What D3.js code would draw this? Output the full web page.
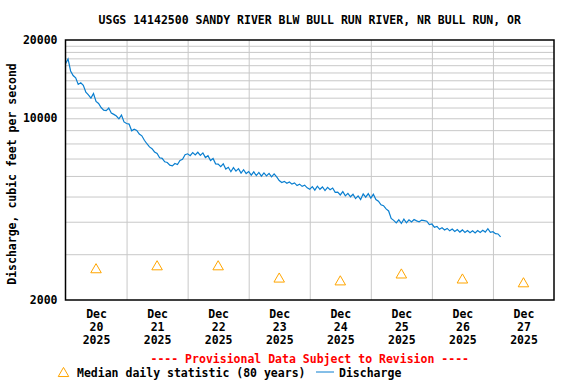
<!DOCTYPE html>
<html>
<head>
<meta charset="utf-8">
<script src="https://cdn.jsdelivr.net/npm/d3@7"></script>
<style>
  body { margin: 0; background: #fff; }
  text { font-family: "DejaVu Sans Mono", monospace; font-weight: bold; font-size: 11.5px; }
</style>
</head>
<body>
<svg id="chart" width="576" height="384"></svg>
<script>
const titleText = 'USGS 14142500 SANDY RIVER BLW BULL RUN RIVER, NR BULL RUN, OR';
const yLabel = 'Discharge, cubic feet per second';
const dayLabels = ['20', '21', '22', '23', '24', '25', '26', '27'];
const yTicks = [2000, 10000, 20000];

// median daily statistic, one per day (at noon)
const medians = [2650, 2720, 2720, 2440, 2380, 2530, 2420, 2340];

// hourly discharge from Dec 20 00:00
const discharge = [
  // Dec 20
  16200, 16900, 15200, 14600, 14300, 13500, 13700, 13400, 12600, 12300, 11950, 12450,
  11600, 11400, 11000, 10750, 10700, 10950, 10480, 10350, 10200, 9950, 10280, 9680,
  // Dec 21
  9550, 9500, 8950, 9080, 8980, 8700, 8560, 8230, 7980, 7760, 7640, 7420,
  7320, 7050, 7010, 6800, 6760, 6600, 6560, 6700, 6640, 6880, 6950, 7240,
  // Dec 22
  7300, 7180, 7380, 7230, 7400, 7200, 7360, 7060, 7180, 6880, 7000, 6680,
  6660, 6520, 6680, 6380, 6480, 6230, 6460, 6260, 6400, 6150, 6340, 6130,
  // Dec 23
  6240, 6040, 6220, 6020, 6190, 5990, 6160, 6000, 6140, 5950, 6110, 5950,
  5760, 5660, 5720, 5620, 5690, 5580, 5640, 5510, 5580, 5470, 5530, 5400,
  // Dec 24
  5330, 5460, 5290, 5480, 5330, 5440, 5270, 5420, 5310, 5390, 5190, 5200,
  5070, 5220, 5030, 5140, 4990, 5100, 4910, 5030, 4870, 5120, 4970, 5130,
  // Dec 25
  4930, 5100, 4870, 4800, 4650, 4610, 4480, 4400, 4120, 4050, 3960, 4070,
  3940, 4090, 3960, 4070, 3990, 4080, 4030, 4000, 4060, 4040, 4020, 3900,
  // Dec 26
  3920, 3810, 3840, 3740, 3790, 3720, 3770, 3690, 3750, 3670, 3730, 3650,
  3720, 3640, 3700, 3630, 3690, 3620, 3700, 3640, 3710, 3650, 3760, 3640,
  // Dec 27
  3660, 3600, 3590, 3500
];

const startTime = Date.UTC(2025, 11, 20);
const hourMs = 3600 * 1000;
const dayMs = 24 * hourMs;

const margin = { left: 65.5, right: 22, top: 40, bottom: 84 };
const width = 576, height = 384;
const plotW = width - margin.left - margin.right;
const plotH = height - margin.top - margin.bottom;

const svg = d3.select('#chart');

const x = d3.scaleUtc()
  .domain([new Date(startTime), new Date(startTime + 8 * dayMs)])
  .range([0, plotW]);

const y = d3.scaleLog()
  .domain([2000, 20000])
  .range([plotH, 0]);

const g = svg.append('g')
  .attr('transform', `translate(${margin.left},${margin.top})`);

// gridlines
const midnights = d3.range(1, 8).map(i => new Date(startTime + i * dayMs));
const hGrid = d3.range(3000, 10000, 1000).concat([10000]).concat(d3.range(11000, 20000, 1000));

g.append('g')
  .attr('class', 'grid')
  .call(d3.axisBottom(x).tickValues(midnights).tickSize(plotH).tickFormat(''))
  .call(s => s.select('.domain').remove())
  .call(s => s.selectAll('line').attr('stroke', '#c8c8c8'));

g.append('g')
  .attr('class', 'grid')
  .call(d3.axisLeft(y).tickValues(hGrid).tickSize(-plotW).tickFormat(''))
  .call(s => s.select('.domain').remove())
  .call(s => s.selectAll('line').attr('stroke', '#c8c8c8'));

// discharge line
const line = d3.line()
  .x((d, i) => x(new Date(startTime + i * hourMs)))
  .y(d => y(d));

g.append('path')
  .datum(discharge)
  .attr('fill', 'none')
  .attr('stroke', '#0a7fd0')
  .attr('stroke-width', 1.2)
  .attr('d', line);

// median triangles
const tri = d3.symbol().type(d3.symbolTriangle).size(48);
g.selectAll('.median')
  .data(medians)
  .enter()
  .append('path')
  .attr('class', 'median')
  .attr('d', tri)
  .attr('transform', (d, i) => `translate(${x(new Date(startTime + i * dayMs + 12 * hourMs))},${y(d) + 1.5})`)
  .attr('fill', 'none')
  .attr('stroke', '#ffa500')
  .attr('stroke-width', 1);

// frame
g.append('rect')
  .attr('width', plotW)
  .attr('height', plotH)
  .attr('fill', 'none')
  .attr('stroke', '#000')
  .attr('stroke-width', 1.5);

// y axis labels
g.append('g')
  .call(d3.axisLeft(y).tickValues(yTicks).tickSize(0).tickPadding(8).tickFormat(d3.format('d')))
  .call(s => s.select('.domain').remove())
  .call(s => s.selectAll('text')
    .attr('fill', '#000')
    .style('font-family', '"DejaVu Sans Mono", monospace')
    .style('font-weight', 'bold')
    .style('font-size', '11.5px'));

// x axis labels (Dec / day / year)
const noons = dayLabels.map((d, i) => new Date(startTime + i * dayMs + 12 * hourMs));
const xAxis = g.append('g')
  .attr('transform', `translate(0,${plotH})`)
  .call(d3.axisBottom(x).tickValues(noons).tickSize(0).tickFormat(''));
xAxis.select('.domain').remove();
xAxis.selectAll('.tick').each(function (d, i) {
  const t = d3.select(this).append('text')
    .attr('text-anchor', 'middle')
    .attr('fill', '#000');
  ['Dec', dayLabels[i], '2025'].forEach((s, k) => {
    t.append('tspan').attr('x', 0).attr('y', 18 + k * 13).text(s);
  });
});

// title
svg.append('text')
  .attr('x', margin.left + plotW / 2)
  .attr('y', 24)
  .attr('text-anchor', 'middle')
  .text(titleText);

// y axis title
svg.append('text')
  .attr('transform', `translate(16,${margin.top + plotH / 2 + 4}) rotate(-90)`)
  .attr('text-anchor', 'middle')
  .text(yLabel);

// provisional note
svg.append('text')
  .attr('x', margin.left + plotW / 2)
  .attr('y', 362.5)
  .attr('text-anchor', 'middle')
  .attr('fill', '#ff0000')
  .text('---- Provisional Data Subject to Revision ----');

// legend
const legend = svg.append('g').attr('transform', 'translate(0,372)');
legend.append('path')
  .attr('d', tri)
  .attr('transform', 'translate(63.5,1.5)')
  .attr('fill', 'none')
  .attr('stroke', '#ffa500');
legend.append('text')
  .attr('x', 77)
  .attr('y', 4.5)
  .text('Median daily statistic (80 years)');
legend.append('line')
  .attr('x1', 316).attr('x2', 334)
  .attr('y1', 0).attr('y2', 0)
  .attr('stroke', '#0a7fd0');
legend.append('text')
  .attr('x', 339)
  .attr('y', 4.5)
  .text('Discharge');
</script>
</body>
</html>
